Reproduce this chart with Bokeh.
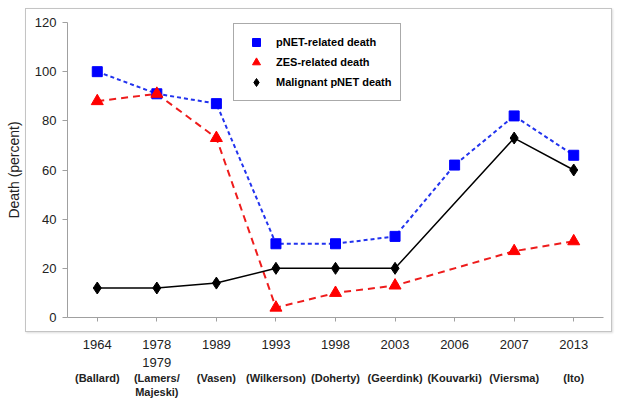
from bokeh.plotting import figure
from bokeh.models import (FixedTicker, LinearAxis, Range1d, Legend, LegendItem,
                          ColumnDataSource, InlineStyleSheet)
from bokeh.embed import file_html
from bokeh.resources import INLINE

years = ["1964", "1978\n1979", "1989", "1993", "1998", "2003", "2006", "2007", "2013"]
authors = ["(Ballard)", "(Lamers/\nMajeski)", "(Vasen)", "(Wilkerson)", "(Doherty)",
           "(Geerdink)", "(Kouvarki)", "(Viersma)", "(Ito)"]
pnet = [100, 91, 87, 30, 30, 33, 62, 82, 66]
zes = [88, 91, 73, 4, 10, 13, None, 27, 31]
malignant = [12, 12, 14, 20, 20, 20, None, 73, 60]

idx = list(range(len(years)))


def pts(vals):
    xs = [i for i, v in zip(idx, vals) if v is not None]
    ys = [v for v in vals if v is not None]
    return ColumnDataSource(dict(x=xs, y=ys))


p = figure(width=613, height=400, x_range=Range1d(-0.5, 8.5), y_range=Range1d(0, 120),
           output_backend="svg", toolbar_location=None,
           min_border_left=67, min_border_right=10, min_border_top=22, min_border_bottom=20,
           x_axis_location=None)
p.outline_line_color = None
p.xgrid.visible = False
p.ygrid.visible = False

FONT = "Liberation Sans"

# y axis
p.yaxis.ticker = FixedTicker(ticks=[0, 20, 40, 60, 80, 100, 120])
p.yaxis.axis_label = "Death (percent)"
p.yaxis.axis_label_text_font = FONT
p.yaxis.axis_label_text_font_style = "normal"
p.yaxis.axis_label_text_font_size = "14px"
p.yaxis.axis_label_text_color = "#222222"
p.yaxis.axis_label_standoff = 10
p.yaxis.major_label_text_font = FONT
p.yaxis.major_label_text_font_size = "13px"
p.yaxis.major_label_text_color = "#222222"
p.yaxis.major_label_standoff = 6
p.yaxis.axis_line_color = "#a0a0a0"
p.yaxis.major_tick_line_color = "#a0a0a0"
p.yaxis.major_tick_out = 5
p.yaxis.major_tick_in = 0
p.yaxis.minor_tick_line_color = None

# x axis: years
xa = LinearAxis(ticker=FixedTicker(ticks=idx),
                major_label_overrides={i: y for i, y in zip(idx, years)})
xa.major_label_text_font = FONT
xa.major_label_text_font_size = "13px"
xa.major_label_text_color = "#222222"
xa.major_label_standoff = 15
xa.axis_line_color = "#a0a0a0"
xa.major_tick_line_color = "#a0a0a0"
xa.major_tick_out = 4
xa.major_tick_in = 0
xa.minor_tick_line_color = None
p.add_layout(xa, "below")

# x axis: authors
xb = LinearAxis(ticker=FixedTicker(ticks=idx),
                major_label_overrides={i: a for i, a in zip(idx, authors)})
xb.major_label_text_font = FONT
xb.major_label_text_font_size = "11px"
xb.major_label_text_font_style = "bold"
xb.major_label_text_color = "#222222"
xb.major_label_standoff = -7
xb.axis_line_color = None
xb.major_tick_line_color = None
xb.minor_tick_line_color = None
p.add_layout(xb, "below")

# outer frame around the plotting region (decorative)
p.stylesheets = [InlineStyleSheet(css="""
:host { position: relative; }
:host::after { content: ""; position: absolute; left: 25px; top: 8px;
  width: 585px; height: 322px; border: 1.5px solid #c4c4c4;
  box-shadow: 1px 1px 2px #dddddd; pointer-events: none; }
""")]

s_p = pts(pnet)
s_z = pts(zes)
s_m = pts(malignant)

p.line("x", "y", source=s_p, line_color="#2233ee", line_width=2, line_dash="4 3")
p.line("x", "y", source=s_z, line_color="#ee1c1c", line_width=2, line_dash="7 5")
p.line("x", "y", source=s_m, line_color="#000000", line_width=1.5)

r_p = p.scatter("x", "y", source=s_p, marker="square", size=10, fill_color="#0000ff",
                line_color="#0000ff")
r_z = p.scatter("x", "y", source=s_z, marker="triangle", size=12, fill_color="#ff0000",
                line_color="#ff0000")
r_m = p.scatter("x", "y", source=s_m, marker="diamond", size=12, fill_color="#000000",
                line_color="#000000")

legend = Legend(items=[LegendItem(label="pNET-related death", renderers=[r_p]),
                       LegendItem(label="ZES-related death", renderers=[r_z]),
                       LegendItem(label="Malignant pNET death", renderers=[r_m])],
                location=(166, 216))
legend.label_text_font = FONT
legend.label_text_font_size = "11px"
legend.label_text_font_style = "bold"
legend.label_text_color = "#000000"
legend.padding = 8
legend.spacing = 0
legend.margin = 0
legend.label_standoff = 6
legend.glyph_width = 28
legend.glyph_height = 20
legend.border_line_color = "#555555"
legend.border_line_width = 1
legend.background_fill_alpha = 1
p.add_layout(legend, "center")

open("out.html", "w").write(file_html(p, INLINE))
